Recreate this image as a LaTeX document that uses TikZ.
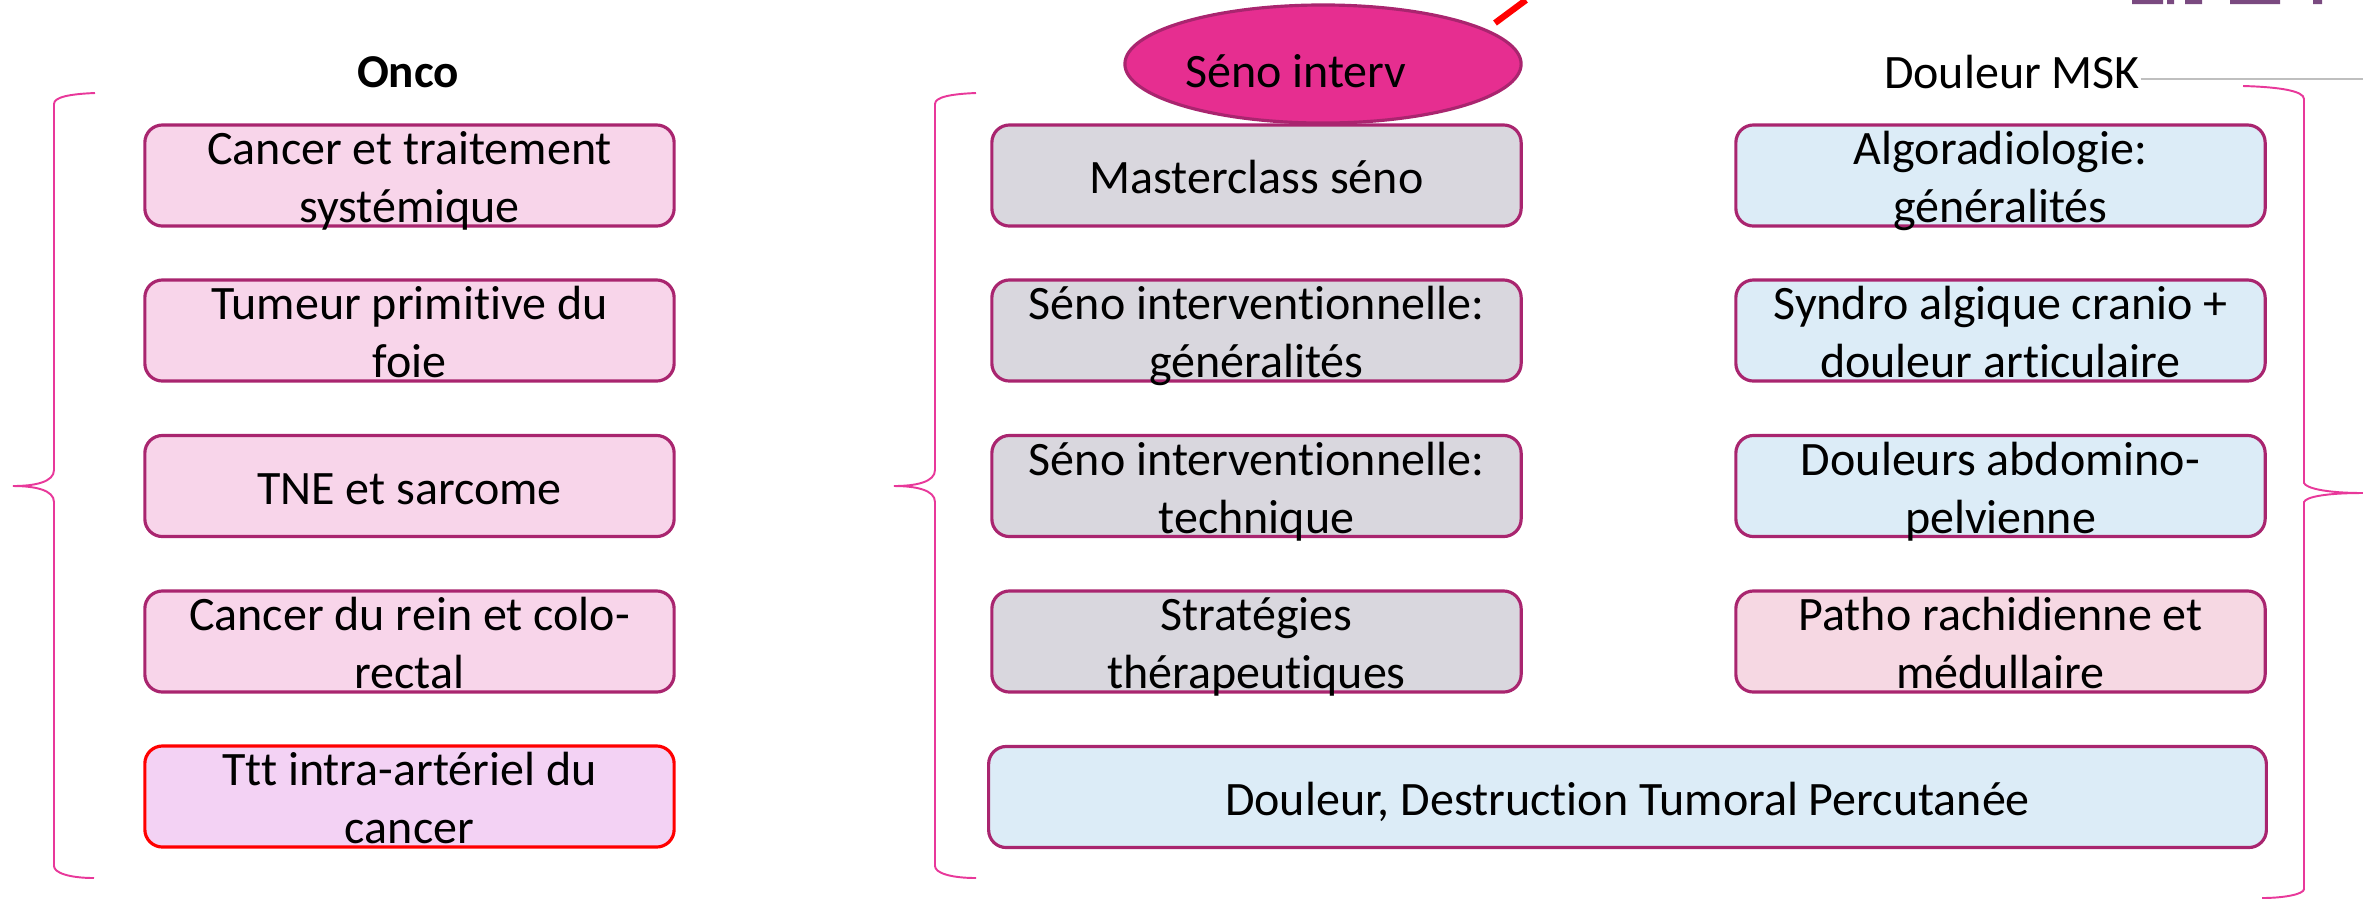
\documentclass[tikz,border=0pt]{standalone}
\usepackage{fontspec}
\setmainfont[Ligatures=NoCommon]{Carlito}
\usetikzlibrary{shapes.geometric}
\definecolor{edgeC}{HTML}{A9256F}
\definecolor{pinkF}{HTML}{F8D5EA}
\definecolor{greyF}{HTML}{D9D7DE}
\definecolor{blueF}{HTML}{DCECF7}
\definecolor{rosyF}{HTML}{F6D8E3}
\definecolor{lilacF}{HTML}{F3D2F4}
\definecolor{ellF}{HTML}{E62E90}
\definecolor{braceC}{HTML}{E8389A}
\definecolor{markC}{HTML}{7A4A80}
\newcommand{\boxtext}[1]{\raisebox{-5.5pt}[0pt][0pt]{\begin{tabular}{@{}c@{}}#1\end{tabular}}}
\tikzset{
  x=0.01cm,y=-0.01cm,
  lbl/.style={font=\fontsize{13.65pt}{16.5pt}\selectfont,align=center,inner sep=0pt},
  box/.style={lbl,draw=edgeC,line width=0.9pt,rounded corners=5pt,minimum width=5.29cm,minimum height=1.01cm},
  pinkbox/.style={box,fill=pinkF},
  greybox/.style={box,fill=greyF},
  bluebox/.style={box,fill=blueF},
  bracket/.style={draw=braceC,line width=0.55pt},
  hdr/.style={lbl},
}
\begin{document}
\begin{tikzpicture}
\useasboundingbox (0,0) rectangle (2363,899);
% clipped logo at the top right
\fill[markC] (2132,0) rectangle (2163,4) (2167,0) rectangle (2174,4) (2185,0) rectangle (2202,4) (2230,0) rectangle (2280,4) (2313,0) rectangle (2322,4);
% left column
\node[pinkbox] (a1) at (409.5,175.5) {\boxtext{Cancer et traitement\\systémique}};
\node[pinkbox] (a2) at (409.5,330.5) {\boxtext{Tumeur primitive du\\foie}};
\node[pinkbox] (a3) at (409.5,486) {\boxtext{TNE et sarcome}};
\node[pinkbox] (a4) at (409.5,641.5) {\boxtext{Cancer du rein et colo-\\rectal}};
\node[box,fill=lilacF,draw=red] (a5) at (409.5,796.5) {\boxtext{Ttt intra-artériel du\\cancer}};
% middle column
\node[greybox] (b1) at (1256.5,175.5) {\boxtext{Masterclass séno}};
\node[greybox] (b2) at (1256.5,330.5) {\boxtext{Séno interventionnelle:\\généralités}};
\node[greybox] (b3) at (1256.5,486) {\boxtext{Séno interventionnelle:\\technique}};
\node[greybox] (b4) at (1256.5,641.5) {\boxtext{Stratégies\\thérapeutiques}};
% right column
\node[bluebox] (c1) at (2000.5,175.5) {\boxtext{Algoradiologie:\\généralités}};
\node[bluebox] (c2) at (2000.5,330.5) {\boxtext{Syndro algique cranio +\\douleur articulaire}};
\node[bluebox] (c3) at (2000.5,486) {\boxtext{Douleurs abdomino-\\pelvienne}};
\node[box,fill=rosyF] (c4) at (2000.5,641.5) {\boxtext{Patho rachidienne et\\médullaire}};
\node[bluebox,minimum width=12.77cm] (d) at (1627.5,797) {\boxtext{Douleur, Destruction Tumoral Percutanée}};
% headers
\node[hdr,font=\fontsize{13.4pt}{16.5pt}\selectfont\bfseries] (h1) at (408,72) {Onco};
\node[ellipse,draw=edgeC,fill=ellF,line width=0.9pt,minimum width=3.96cm,minimum height=1.18cm,lbl] (h2) at (1323,64) {};
\node[hdr] (h2t) at (1296,71) {Séno interv};
\node[hdr] (h3) at (2012,72) {Douleur MSK};
% connectors
\coordinate (r1) at (1495,23);
\coordinate (r2) at (1526,0);
\draw[red,line width=1.8pt] (r1) -- (r2);
\coordinate (g2) at (2363,79);
\draw[black!25,line width=0.4pt] (h3.east |- g2) -- (g2);
% braces
\draw[bracket] (95,93) .. controls (70,94) and (54,97) .. (54,104) -- (54,470) .. controls (54,482) and (35,486) .. (13,486) .. controls (35,486) and (54,490) .. (54,502) -- (54,866) .. controls (54,873) and (70,878) .. (94,878);
\draw[bracket] (976,93) .. controls (951,94) and (935,97) .. (935,104) -- (935,470) .. controls (935,482) and (916,486) .. (894,486) .. controls (916,486) and (935,490) .. (935,502) -- (935,866) .. controls (935,873) and (951,878) .. (976,878);
\draw[bracket] (2243,86) .. controls (2280,87) and (2304,91) .. (2304,99) -- (2304,483) .. controls (2306,488) and (2325,493) .. (2363,493) .. controls (2325,493) and (2306,497) .. (2304,502) -- (2304,889) .. controls (2304,894) and (2285,898) .. (2262,898);
\end{tikzpicture}
\end{document}
